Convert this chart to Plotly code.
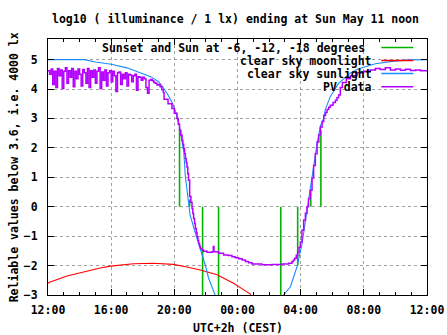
import plotly.graph_objects as go
import pandas as pd

# ---------------- data (hours after Sat 2025-05-10 12:00 CEST) ----------------
base_time = "2025-05-10 12:00"

event_hours = [8.33, 8.97, 9.79, 10.80, 14.74, 15.81, 16.64, 17.28]
event_tops = [2.6, 0.25, -3.0, -3.0, -3.0, -2.0, 0.56, 2.6]

moon_hours = [0.0, 0.1, 1.2, 2.25, 3.31, 3.96, 5.42, 6.67, 7.94, 8.8, 9.65, 10.7, 11.75, 12.5, 12.81, 13.0]
moon_vals = [-2.6, -2.57, -2.355, -2.21, -2.08, -2.02, -1.94, -1.92, -1.96, -2.05, -2.15, -2.31, -2.6, -2.86, -2.97, -3.2]

sun_hours = [0.0, 1.0, 2.0, 2.3, 3.0, 4.0, 5.0, 5.5, 6.0, 6.5, 7.0, 7.3, 7.6, 7.9, 8.1, 8.3,
             8.45, 8.6, 8.7, 9.0, 9.33, 9.64, 9.96, 10.17, 10.6, 10.8,
             14.8, 14.92, 15.35, 15.77, 16.09, 16.4, 16.72, 17.04, 17.25, 17.46, 17.56, 17.88,
             18.4, 18.83, 19.15, 19.67, 20.73, 21.79, 22.84, 24.0]
sun_vals = [5.0, 5.0, 5.0, 5.0, 4.92, 4.84, 4.72, 4.62, 4.52, 4.42, 4.25, 4.05, 3.8, 3.5, 3.2, 2.8,
            2.35, 1.85, 1.02, -0.29, -0.9, -1.42, -1.98, -2.43, -3.0, -3.3,
            -3.3, -3.0, -2.72, -2.04, -1.25, -0.11, 1.02, 2.15, 2.75, 3.0, 3.3, 3.75,
            4.19, 4.41, 4.55, 4.69, 4.86, 4.94, 4.99, 5.0]

pv_hours = [0.0, 0.1, 0.2, 0.3, 0.4, 0.5, 0.6, 0.7, 0.8, 0.9,
            1.0, 1.1, 1.2, 1.3, 1.4, 1.5, 1.6, 1.7, 1.8, 1.9,
            2.0, 2.1, 2.2, 2.3, 2.4, 2.5, 2.6, 2.7, 2.8, 2.9,
            3.0, 3.1, 3.2, 3.3, 3.4, 3.5, 3.6, 3.7, 3.8, 3.9,
            4.0, 4.1, 4.2, 4.3, 4.4, 4.5, 4.6, 4.7, 4.8, 4.9,
            5.0, 5.1, 5.2, 5.3, 5.4, 5.5, 5.6, 5.7, 5.8, 5.9,
            6.0, 6.1, 6.2, 6.3, 6.4, 6.5, 6.6, 6.7, 6.8, 6.9,
            7.0, 7.1, 7.2, 7.3,
            7.35, 7.6, 7.85, 8.0, 8.17, 8.25, 8.33, 8.41, 8.49, 8.54, 8.59, 8.65, 8.70, 8.75,
            8.80, 8.85, 8.90, 8.97, 9.05, 9.12, 9.17, 9.22, 9.28, 9.33,
            9.39, 9.44, 9.49, 9.54, 9.60, 9.65, 9.75, 9.85, 10.07, 10.39, 10.47, 10.51, 10.80,
            11.12, 11.4, 11.65, 11.85, 12.07, 12.3,
            12.50, 12.7, 12.92, 13.55, 14.19, 14.82, 15.24, 15.45, 15.55, 15.62, 15.72, 15.81,
            15.9, 15.98, 16.08, 16.19, 16.3,
            16.40, 16.5, 16.61, 16.72, 16.82, 16.93, 17.04, 17.15, 17.25, 17.36, 17.46, 17.57,
            17.67, 17.78, 17.88, 18.05, 18.2, 18.3, 18.4, 18.51,
            18.64, 18.89, 19.15, 19.57, 19.99, 20.4, 20.73, 21.04, 21.36, 21.68, 22.0,
            22.32, 22.64, 22.95, 23.27, 23.59, 24.0]
pv_vals = [4.62, 4.50, 4.68, 4.15, 4.60, 4.05, 4.70, 4.45, 4.65, 4.02,
           4.60, 4.72, 4.20, 4.62, 4.40, 4.70, 4.08, 4.60, 4.35, 4.68,
           4.50, 4.10, 4.66, 4.55, 4.20, 4.70, 4.05, 4.62, 4.40, 4.65,
           4.20, 4.60, 4.72, 4.02, 4.58, 4.30, 4.65, 4.10, 4.55, 4.62,
           4.25, 4.60, 4.45, 3.92, 4.55, 4.58, 4.15, 4.50, 4.35, 4.55,
           4.10, 4.50, 4.48, 4.25, 4.45, 4.50, 3.96, 4.42, 4.40, 4.30,
           4.40, 4.35, 4.05, 3.86, 4.30, 4.32, 4.28, 4.22, 4.20, 4.14,
           4.15, 4.08, 3.98, 3.88,
           3.65, 3.5, 3.34, 3.18, 3.0, 2.8, 2.6, 2.43, 2.26, 2.12, 1.98, 1.8, 1.64, 1.5,
           1.35, 1.12, 0.9, 0.35, 0.15, -0.06, -0.23, -0.4, -0.57, -0.74,
           -0.88, -1.02, -1.14, -1.25, -1.34, -1.42, -1.47, -1.51, -1.55, -1.53, -1.35, -1.53, -1.58,
           -1.64, -1.66, -1.70, -1.73, -1.77, -1.81,
           -1.86, -1.9, -1.95, -1.97, -1.96, -1.95, -1.92, -1.86, -1.81, -1.75, -1.65, -1.55,
           -1.38, -1.2, -0.8, -0.45, -0.22,
           0.0, 0.28, 0.56, 0.98, 1.4, 1.8, 2.2, 2.45, 2.71, 2.9, 3.1, 3.2,
           3.3, 3.38, 3.45, 3.54, 3.62, 3.7, 3.8, 4.05,
           4.22, 4.35, 4.45, 4.55, 4.6, 4.65, 4.7, 4.66, 4.72, 4.65, 4.68,
           4.64, 4.67, 4.63, 4.65, 4.62, 4.62]

x_tick_hours = [0, 4, 8, 12, 16, 20, 24]
y_ticks = [-3, -2, -1, 0, 1, 2, 3, 4, 5]

legend_names = ["Sunset and Sun at -6, -12, -18 degrees", "clear sky moonlight",
                "clear sky sunlight", "PV data"]

# ---------------- helpers ----------------
t0 = pd.Timestamp(base_time)


def to_time(hours):
    return [None if h is None else t0 + pd.Timedelta(hours=h) for h in hours]


GREEN = "#00b400"
RED = "#ff0000"
BLUE = "#1a8cff"
PURPLE = "#b400ff"
colors = [GREEN, RED, BLUE, PURPLE]

ev_x, ev_y = [], []
for h, v in zip(event_hours, event_tops):
    ev_x += [h, h, None]
    ev_y += [0, v, None]

fig = go.Figure()
fig.add_trace(go.Scatter(x=to_time(ev_x), y=ev_y, mode="lines",
                         line=dict(color=GREEN, width=1.6), showlegend=False,
                         connectgaps=False))
fig.add_trace(go.Scatter(x=to_time(moon_hours), y=moon_vals, mode="lines",
                         line=dict(color=RED, width=1.1), showlegend=False))
fig.add_trace(go.Scatter(x=to_time(sun_hours), y=sun_vals, mode="lines",
                         line=dict(color=BLUE, width=1.1), showlegend=False))
fig.add_trace(go.Scatter(x=to_time(pv_hours), y=pv_vals, mode="lines",
                         line=dict(color=PURPLE, width=1.5, shape="hv"), showlegend=False))

FONT = dict(family="DejaVu Sans Mono", size=11.5, color="black", weight="bold")

# plot area in pixels
L, R, T, B = 47.7, 426.7, 39.0, 295.0
W, H = R - L, B - T


def px_x(p):
    return (p - L) / W


def px_y(p):
    return (B - p) / H


# manual gnuplot-style key
key_text_right = [366, 373, 373, 373]
key_y = [47.5, 60.5, 73.5, 86.7]
for name, col, xr, yy in zip(legend_names, colors, key_text_right, key_y):
    fig.add_annotation(x=px_x(xr), y=px_y(yy), xref="paper", yref="paper",
                       text=name, showarrow=False, xanchor="right", yanchor="middle",
                       font=FONT, borderpad=0)
    fig.add_shape(type="line", xref="paper", yref="paper",
                  x0=px_x(381), x1=px_x(413), y0=px_y(yy), y1=px_y(yy),
                  line=dict(color=col, width=1.4))

fig.add_annotation(x=0, y=0.5, xref="paper", yref="paper", xshift=14 - L,
                   text="Reliable values below 3.6, i.e. 4000 lx", textangle=-90,
                   showarrow=False, xanchor="center", yanchor="middle", font=FONT)
fig.add_annotation(x=0.5, y=0, xref="paper", yref="paper", yshift=-(328.3 - B),
                   text="UTC+2h (CEST)", showarrow=False, xanchor="center",
                   yanchor="middle", font=FONT)

fig.update_layout(
    width=447, height=335,
    margin=dict(l=L, r=447 - R, t=T, b=335 - B, autoexpand=False),
    paper_bgcolor="white", plot_bgcolor="white",
    font=FONT,
    title=dict(text="log10 ( illuminance / 1 lx) ending at Sun May 11 noon",
               x=235.5 / 447, xref="container", xanchor="center",
               y=1 - 19 / 335, yref="container", yanchor="middle", font=FONT),
    showlegend=False,
)
fig.update_xaxes(
    type="date", range=to_time([0, 24]),
    tickvals=to_time(x_tick_hours), tickformat="%H:%M",
    ticks="inside", ticklen=6, tickcolor="black", tickwidth=1,
    minor=dict(dtick=3600000, ticks="inside", ticklen=3, tickcolor="black", showgrid=False),
    showline=True, linecolor="black", linewidth=1, mirror="ticks",
    showgrid=True, gridcolor="#a0a0a0", griddash="3px,3px", gridwidth=1,
    zeroline=False, tickfont=FONT, ticklabelstandoff=4,
)
fig.update_yaxes(
    range=[-3, 5.7], tickvals=y_ticks,
    ticks="inside", ticklen=6, tickcolor="black", tickwidth=1,
    showline=True, linecolor="black", linewidth=1, mirror="ticks",
    showgrid=True, gridcolor="#a0a0a0", griddash="3px,3px", gridwidth=1,
    zeroline=False, tickfont=FONT, ticklabelstandoff=7,
)

fig.write_html("out.html")
